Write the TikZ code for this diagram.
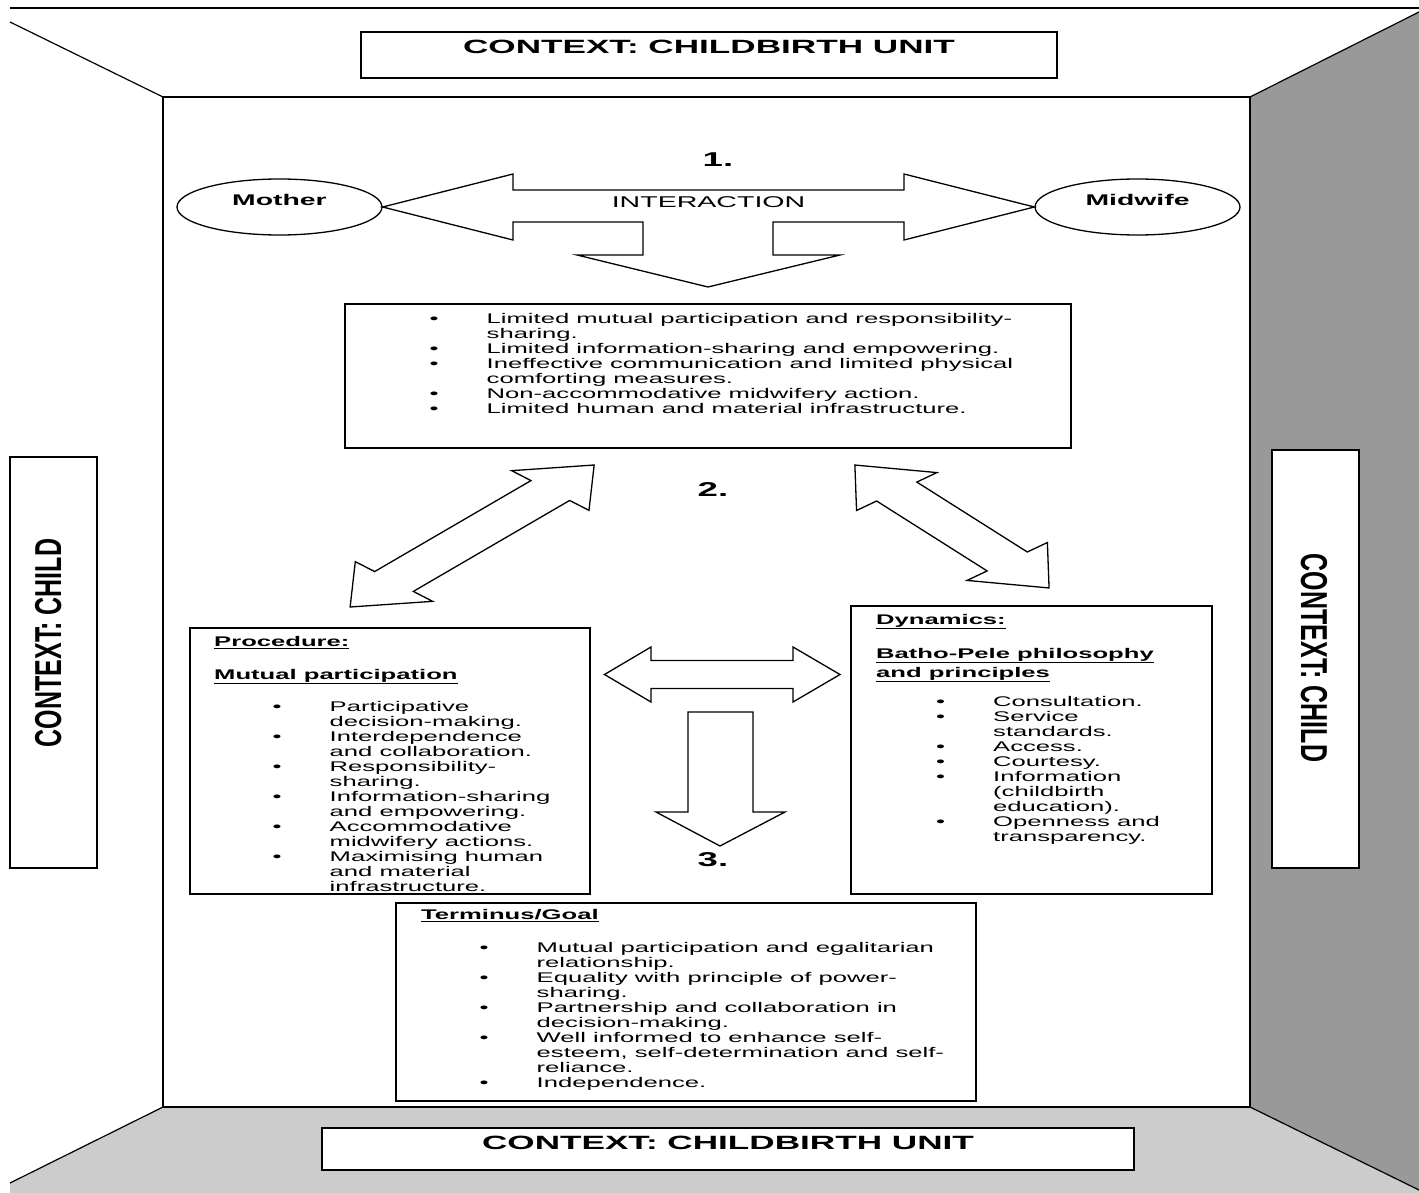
\documentclass[tikz,border=0pt]{standalone}
\usepackage{fontspec}
\setmainfont{Liberation Sans}[FakeStretch=1.83]
\newfontfamily\plainsans{Liberation Sans}
\usepackage{graphicx}
\usetikzlibrary{shapes.geometric}
\definecolor{wallgray}{RGB}{153,153,153}
\definecolor{floorgray}{RGB}{204,204,204}
\newcommand\bul{\rule{0pt}{11pt}\makebox[57pt][l]{\textbullet}}
\newcommand\cont{\hspace*{57pt}}
\newcommand\hd[1]{\rule{0pt}{11pt}\underline{#1}}
% double block arrow, drawn unstretched and then widened like the page
\newcommand\dblarrow[3]{%
  \begin{scope}[xscale=1.83]
    \draw[blockarrow,shift={#1},rotate=#2]
      (-#3,0) -- ++(35,29) -- ++(0,-14.5) -- (#3-35,14.5) -- ++(0,14.5) -- (#3,0)
      -- ++(-35,-29) -- ++(0,14.5) -- (-#3+35,-14.5) -- ++(0,-14.5) -- cycle;
  \end{scope}}
\begin{document}
\begin{tikzpicture}
  [x=1pt,y=-1pt,
   roomline/.style={line width=1.2pt},
   ctxbox/.style={draw,line width=2pt,fill=white,inner sep=0pt},
   ctxlabel/.style={inner sep=0pt,font=\bfseries\fontsize{19.2}{20}\selectfont},
   childlabel/.style={inner sep=0pt,font=\plainsans\bfseries\fontsize{25}{25}\selectfont},
   infobox/.style={draw,line width=2.2pt,fill=white,inner sep=0pt},
   blockarrow/.style={draw,line width=1.3pt,fill=white},
   person/.style={ellipse,draw,line width=1.3pt,fill=white,minimum width=205pt,minimum height=56pt,
     inner sep=0pt,text depth=14pt,font=\bfseries\fontsize{15.5}{16}\selectfont},
   itemlist/.style={anchor=north west,inner sep=0pt,align=left,font=\fontsize{14}{15}\selectfont},
   heading/.style={itemlist,font=\bfseries\fontsize{14}{15}\selectfont},
   stage/.style={inner sep=0pt,font=\bfseries\fontsize{20}{20}\selectfont}]
\useasboundingbox (0,0) rectangle (1419,1193);

% room
\fill[floorgray] (10,1183) -- (163,1107) -- (1250,1107) -- (1419,1190) -- (1419,1193) -- (10,1193) -- cycle;
\fill[wallgray] (1250,97) -- (1419,12) -- (1419,1190) -- (1250,1107) -- cycle;
\draw[roomline] (10,8) -- (1419,8);
\draw[roomline] (10,22) -- (163,97);
\draw[roomline] (1250,97) -- (1419,12);
\draw[roomline] (163,1107) -- (10,1183);
\draw[roomline] (1250,1107) -- (1419,1190);
\draw[roomline] (163,97) rectangle (1250,1107);
\draw[line width=2.4pt] (163,97) -- (163,1107) (1250,97) -- (1250,1107);

% context boxes
\node[ctxbox,minimum width=696pt,minimum height=46pt] (unittop) at (709,55) {};
\node[ctxlabel] (unittoptext) at (709,47) {CONTEXT: CHILDBIRTH UNIT};
\node[ctxbox,minimum width=812pt,minimum height=42pt] (unitbottom) at (728,1149) {};
\node[ctxlabel] (unitbottomtext) at (728,1143) {CONTEXT: CHILDBIRTH UNIT};
\node[ctxbox,minimum width=87pt,minimum height=411pt] (childleft) at (53.5,662.5) {};
\node[childlabel,rotate=90,anchor=base] (childlefttext) at (61,643) {\scalebox{1}[1.5]{CONTEXT: CHILD}};
\node[ctxbox,minimum width=87pt,minimum height=418pt] (childright) at (1315.5,659) {};
\node[childlabel,rotate=-90,anchor=base] (childrighttext) at (1301,658) {\scalebox{1}[1.5]{CONTEXT: CHILD}};

% 1. interaction
\node[person] (mother) at (279.5,207) {Mother};
\node[person] (midwife) at (1137.5,207) {Midwife};
\draw[blockarrow] (mother.east) -- (513,174) -- (513,190) -- (904,190) -- (904,174) -- (midwife.west)
  -- (904,240) -- (904,222) -- (773,222) -- (773,255) -- (840,255) -- (708,287) -- (577,255)
  -- (643,255) -- (643,222) -- (513,222) -- (513,240) -- cycle;
\node[stage] (one) at (718,160) {1.};
\node[inner sep=0pt,font=\fontsize{15.6}{16}\selectfont] (interaction) at (708.5,202.5) {INTERACTION};

\node[infobox,minimum width=726pt,minimum height=144pt] (problems) at (708,376) {};
\node[itemlist] (problemlist) at (429.5,312)
  {\bul Limited mutual participation and responsibility-\\
   \cont sharing.\\
   \bul Limited information-sharing and empowering.\\
   \bul Ineffective communication and limited physical\\
   \cont comforting measures.\\
   \bul Non-accommodative midwifery action.\\
   \bul Limited human and material infrastructure.};

% 2. procedure and dynamics
\node[stage] (two) at (713,490) {2.};
\dblarrow{(258,536)}{46.8}{97.4}
\dblarrow{(520.2,526.5)}{-49.2}{81.2}

\node[infobox,minimum width=400pt,minimum height=266pt] (procedure) at (390,761) {};
\node[heading] (prochead) at (214,635) {\hd{Procedure:}\\[18pt]\hd{Mutual participation}};
\node[itemlist] (proclist) at (272.5,700)
  {\bul Participative\\ \cont decision-making.\\
   \bul Interdependence\\ \cont and collaboration.\\
   \bul Responsibility-\\ \cont sharing.\\
   \bul Information-sharing\\ \cont and empowering.\\
   \bul Accommodative\\ \cont midwifery actions.\\
   \bul Maximising human\\ \cont and material\\ \cont infrastructure.};

\node[infobox,minimum width=361pt,minimum height=288pt] (dynamics) at (1031.5,750) {};
\node[heading] (dynhead) at (876,613)
  {\hd{Dynamics:}\\[17pt]\hd{Batho-Pele philosophy}\\[2pt]\hd{and principles}};
\node[itemlist] (dynlist) at (936,695)
  {\bul Consultation.\\
   \bul Service\\ \cont standards.\\
   \bul Access.\\
   \bul Courtesy.\\
   \bul Information\\ \cont (childbirth\\ \cont education).\\
   \bul Openness and\\ \cont transparency.};

\draw[blockarrow] (604.5,674.5) -- (651,647) -- (651,660.5) -- (793,660.5) -- (793,647) -- (840,674.5)
  -- (793,702) -- (793,688.5) -- (651,688.5) -- (651,702) -- cycle;

% 3. terminus
\draw[blockarrow] (688,712) -- (753,712) -- (753,812) -- (785,812) -- (720,846) -- (656,812) -- (688,812) -- cycle;
\node[stage] (three) at (713,860) {3.};

\node[infobox,minimum width=580pt,minimum height=198pt] (terminus) at (686,1002) {};
\node[heading] (termhead) at (421,908) {\hd{Terminus/Goal}};
\node[itemlist] (termlist) at (479.5,941)
  {\bul Mutual participation and egalitarian\\ \cont relationship.\\
   \bul Equality with principle of power-\\ \cont sharing.\\
   \bul Partnership and collaboration in\\ \cont decision-making.\\
   \bul Well informed to enhance self-\\ \cont esteem, self-determination and self-\\ \cont reliance.\\
   \bul Independence.};
\end{tikzpicture}
\end{document}
